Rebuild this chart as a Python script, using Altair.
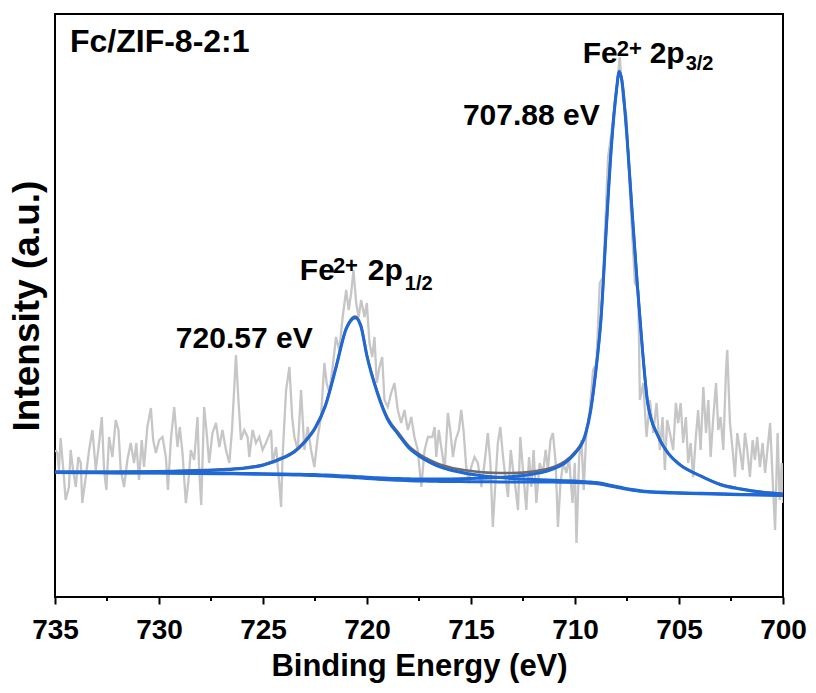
import altair as alt
import pandas as pd

# ---------------- raw XPS spectrum ----------------
raw_energy = [
    734.97, 734.89, 734.81, 734.73, 734.57, 734.49, 734.33, 734.25, 734.13, 734.00,
    733.88, 733.76, 733.69, 733.52, 733.36, 733.20, 733.04, 732.88, 732.75, 732.64,
    732.53, 732.40, 732.24, 732.08, 731.95, 731.84, 731.68, 731.52, 731.36, 731.20,
    731.09, 730.96, 730.83, 730.72, 730.56, 730.39, 730.28, 730.15, 729.99, 729.83,
    729.67, 729.57, 729.43, 729.27, 729.11, 729.00, 728.87, 728.71, 728.58, 728.47,
    728.31, 728.15, 728.07, 727.97, 727.83, 727.72, 727.59, 727.43, 727.26, 727.10,
    726.95, 726.78, 726.62, 726.49, 726.30, 726.19, 726.06, 725.90, 725.74,
    725.66, 725.50, 725.34, 725.18, 725.02, 724.86, 724.61, 724.54, 724.37, 724.22,
    724.13, 724.06, 723.89, 723.73, 723.60, 723.49, 723.33, 723.17, 723.01, 722.85,
    722.69, 722.53, 722.37, 722.21, 722.05, 721.94, 721.81, 721.65, 721.49, 721.33,
    721.17, 721.00, 720.88, 720.76, 720.65, 720.52, 720.40, 720.28, 720.12, 720.01,
    719.88, 719.75, 719.64, 719.53, 719.40, 719.27, 719.16, 719.00, 718.84, 718.68,
    718.52, 718.36, 718.20, 718.04, 717.87, 717.72, 717.56, 717.39, 717.23, 717.07,
    716.86, 716.75, 716.67, 716.55, 716.43, 716.27, 716.11, 716.00, 715.87, 715.74,
    715.58, 715.47, 715.36, 715.23, 715.10, 714.99, 714.83, 714.67, 714.50, 714.35,
    714.19, 714.07, 713.95, 713.82, 713.71, 713.59, 713.46, 713.33, 713.22, 713.09,
    712.98, 712.85, 712.74, 712.63, 712.50, 712.34, 712.21, 712.10, 711.99, 711.86,
    711.70, 711.54, 711.41, 711.30, 711.18, 711.06, 710.93, 710.82, 710.70, 710.57,
    710.41, 710.29, 710.12, 710.01, 709.93, 709.80, 709.69, 709.58, 709.45,
    709.29, 709.13, 708.97, 708.81, 708.65, 708.41, 708.25, 708.00, 707.85, 707.69,
    707.52, 707.36, 707.12, 706.96, 706.88, 706.72, 706.56, 706.40, 706.24, 706.08,
    705.92, 705.79, 705.68, 705.57, 705.44, 705.28, 705.15, 705.04, 704.92, 704.80,
    704.67, 704.56, 704.44, 704.32, 704.19, 704.08, 703.96, 703.83, 703.70, 703.59,
    703.48, 703.35, 703.22, 703.11, 703.00, 702.87, 702.74, 702.68, 702.55, 702.42,
    702.31, 702.20, 702.07, 701.94, 701.83, 701.72, 701.59, 701.46, 701.35, 701.24,
    701.11, 700.98, 700.86, 700.75, 700.62, 700.49, 700.38, 700.26, 700.16, 700.06,
    700.00,
]
raw_intensity = [
    147, 144, 127, 159, 120, 97, 110, 147, 127, 110,
    140, 134, 94, 120, 147, 167, 127, 154, 180, 127,
    107, 160, 140, 177, 167, 127, 110, 137, 154, 134,
    154, 117, 157, 130, 170, 189, 157, 144, 157, 160,
    140, 107, 157, 190, 150, 170, 144, 94, 117, 147,
    137, 180, 127, 92, 190, 167, 134, 164, 174, 150,
    167, 147, 134, 167, 242, 200, 157, 167, 160,
    140, 167, 154, 160, 147, 154, 167, 134, 150, 114,
    90, 140, 207, 230, 180, 160, 147, 207, 147, 170,
    147, 130, 160, 180, 234, 214, 204, 230, 260, 247,
    280, 307, 287, 304, 327, 294, 280, 297, 280, 294,
    254, 240, 260, 214, 230, 240, 197, 190, 204, 214,
    187, 174, 187, 167, 180, 160, 147, 110, 147, 160,
    160, 170, 140, 167, 150, 127, 184, 167, 140, 157,
    167, 187, 167, 130, 114, 130, 140, 134, 110, 134,
    164, 134, 70, 117, 154, 170, 140, 117, 100, 147,
    127, 107, 87, 160, 127, 87, 140, 110, 147, 94,
    134, 124, 147, 127, 157, 164, 134, 70, 114, 134,
    124, 140, 94, 134, 54, 140, 157, 107, 167,
    187, 227, 234, 314, 320, 440, 464, 507, 540, 497,
    480, 404, 314, 307, 197, 214, 160, 197, 164, 194,
    147, 180, 127, 177, 164, 147, 194, 174, 194, 154,
    180, 134, 154, 120, 160, 187, 147, 210, 164, 197,
    140, 180, 214, 167, 180, 147, 227, 247, 174, 147,
    120, 164, 147, 127, 164, 147, 120, 157, 137, 160,
    130, 154, 124, 147, 174, 114, 67, 164, 97, 134,
    94,
]

# ---------------- fitted curves ----------------
fit_energy = [
    735, 733, 731, 729, 727, 726, 725, 724, 723.5, 723,
    722.5, 722, 721.5, 721, 720.8, 720.57, 720.3, 720, 719.5, 719,
    718.5, 718, 717.5, 717, 716.5, 716, 715, 714, 713, 712,
    711, 710.5, 710, 709.5, 709.25, 709, 708.75, 708.5, 708.25, 708,
    707.88, 707.75, 707.5, 707.25, 707, 706.75, 706.5, 706, 705.5, 705,
    704, 703, 702, 701, 700,
]
background = [
    124.5, 124.2, 124.0, 123.7, 123.3, 123.0, 122.7, 122.3, 122.0, 121.8,
    121.5, 121.0, 120.5, 120.0, 119.7, 119.3, 119.0, 118.5, 117.8, 117.2,
    116.7, 116.3, 116.0, 115.8, 115.6, 115.5, 115.3, 115.2, 115.0, 115.0,
    114.9, 114.8, 114.6, 114.2, 113.8, 113.5, 112.8, 111.8, 110.7, 109.7,
    109.2, 108.7, 107.7, 106.8, 106.1, 105.5, 105.1, 104.5, 104.1, 103.8,
    103.3, 102.8, 102.3, 101.9, 101.5,
]
# peak heights above the background
peak_2p12 = [
    0.5, 0.8, 1.2, 2, 3.8, 5.5, 9, 17, 23, 33,
    47, 70, 108, 148, 156, 160, 152, 122, 86, 60,
    46, 33, 25, 19, 14.5, 11.5, 7.5, 5, 3.5, 2.5,
    1.8, 1.55, 1.3, 1.15, 1.1, 1.0, 0.95, 0.9, 0.85, 0.8,
    0.8, 0.75, 0.7, 0.65, 0.6, 0.55, 0.5, 0.5, 0.45, 0.4,
    0.4, 0.35, 0.3, 0.3, 0.3,
]
peak_2p32 = [
    0.2, 0.25, 0.3, 0.4, 0.5, 0.55, 0.6, 0.7, 0.75, 0.8,
    0.9, 0.95, 1.0, 1.1, 1.15, 1.2, 1.25, 1.3, 1.4, 1.5,
    1.7, 1.9, 2.0, 2.2, 2.4, 2.6, 3.2, 4.0, 5.5, 8,
    13.5, 19, 29, 48, 72, 112, 165, 255, 340, 398,
    416, 408, 352, 277, 205, 140, 88, 56, 39, 29,
    18, 9.5, 5.5, 2.8, 1.5,
]

minor_ticks = [732.5, 727.5, 722.5, 717.5, 712.5, 707.5, 702.5]
major_ticks = [735, 730, 725, 720, 715, 710, 705, 700]

# annotation texts (positions in data units)
ann_text = ["Fc/ZIF-8-2:1", "720.57 eV", "707.88 eV",
            "Fe", "2+", "2p", "1/2",
            "Fe", "2+", "2p", "3/2"]
ann_energy = [734.28, 729.19, 715.39,
              723.23, 721.64, 719.96, 718.18,
              709.63, 707.99, 706.41, 704.68]
ann_intensity = [545, 249, 472,
                 317, 324, 317, 307,
                 534, 541, 534, 527]
ann_size = [32, 30, 30,
            30, 22, 30, 20,
            30, 22, 30, 20]

assert len(raw_energy) == len(raw_intensity)
assert len(fit_energy) == len(background) == len(peak_2p12) == len(peak_2p32)

raw_df = pd.DataFrame({"E": raw_energy, "I": raw_intensity})
fit_df = pd.DataFrame({
    "E": fit_energy,
    "bg": background,
    "p1": [b + h for b, h in zip(background, peak_2p32)],
    "p2": [b + h for b, h in zip(background, peak_2p12)],
    "env": [b + h1 + h2 for b, h1, h2 in zip(background, peak_2p32, peak_2p12)],
})
minor_df = pd.DataFrame({"E": minor_ticks})
ann_df = pd.DataFrame({"E": ann_energy, "I": ann_intensity, "t": ann_text, "s": ann_size})

W, H = 728, 583
REG = "Liberation Sans, Arial, sans-serif"
BLUE = "#1f68d6"

xscale = alt.Scale(domain=[700, 735], reverse=True, nice=False, zero=False)
yscale = alt.Scale(domain=[0, 583], nice=False, zero=False)

xaxis = alt.Axis(
    values=major_ticks, title="Binding Energy (eV)", format="d",
    domain=False, grid=False, ticks=True, tickSize=7, tickWidth=2, tickColor="black",
    labelFont=REG, labelFontSize=28, labelFontWeight="bold", labelColor="black",
    labelPadding=12, labelFlush=False, labelOverlap=False, labelBound=False,
    titleFont=REG, titleFontSize=31, titleFontWeight="bold", titleColor="black",
    titlePadding=7,
)
yaxis = alt.Axis(
    labels=False, ticks=False, domain=False, grid=False,
    title="Intensity (a.u.)", titleFont=REG, titleFontSize=37,
    titleFontWeight="bold", titleColor="black", titlePadding=9,
)

x_enc = alt.X("E:Q", scale=xscale, axis=xaxis)
y_enc = alt.Y("I:Q", scale=yscale, axis=yaxis)

raw = alt.Chart(raw_df).mark_line(color="#c6c6c6", strokeWidth=2.3, clip=True).encode(
    x=x_enc, y=y_enc)


def fit_layer(col, color, width):
    return alt.Chart(fit_df).mark_line(
        color=color, strokeWidth=width, interpolate="monotone", clip=True
    ).encode(x=alt.X("E:Q", scale=xscale), y=alt.Y(f"{col}:Q", scale=yscale))


env = fit_layer("env", "#6b6b6b", 2.6)
bg = fit_layer("bg", BLUE, 3)
p2 = fit_layer("p2", BLUE, 3)
p1 = fit_layer("p1", BLUE, 3)

minor = alt.Chart(minor_df).mark_rule(color="black", strokeWidth=2, clip=False).encode(
    x=alt.X("E:Q", scale=xscale),
    y=alt.value(H),
    y2=alt.value(H + 4),
)

ann = alt.Chart(ann_df).mark_text(
    align="left", baseline="alphabetic", font=REG, fontWeight="bold", color="black"
).encode(
    x=alt.X("E:Q", scale=xscale),
    y=alt.Y("I:Q", scale=yscale),
    text="t:N",
    size=alt.Size("s:Q", scale=None, legend=None),
)

chart = alt.layer(raw, env, bg, p2, p1, minor, ann).properties(
    width=W, height=H,
    autosize=alt.AutoSizeParams(type="none"),
    padding={"left": 55, "top": 14, "right": 33, "bottom": 96},
    background="white",
).configure_view(stroke="black", strokeWidth=2).configure_axis(grid=False)

chart.save("out.html", embed_options={"renderer": "svg", "actions": False})
